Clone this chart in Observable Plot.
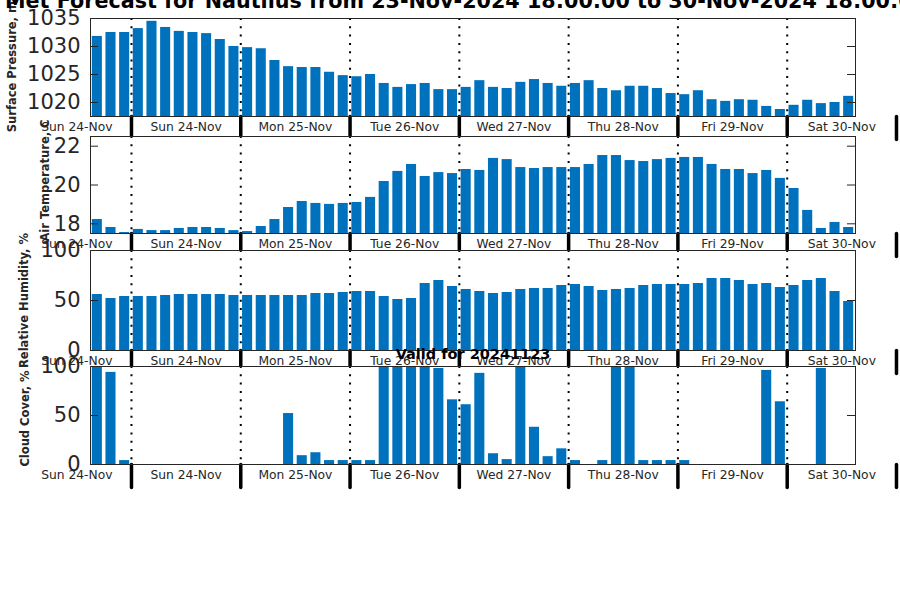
<!DOCTYPE html>
<html><head><meta charset="utf-8">
<script src="https://cdn.jsdelivr.net/npm/d3@7"></script>
<script src="https://cdn.jsdelivr.net/npm/@observablehq/plot@0.6"></script>
<style>
body{margin:0;background:#fff;}
#chart{position:relative;width:900px;height:600px;overflow:hidden;background:#fff;font-family:"DejaVu Sans",sans-serif;}
#chart svg{position:absolute;left:0;}
</style></head><body><div id="chart"></div>
<script>
// hours since 23-Nov-2024 00:00 for each 3-hourly bar
const hours = [16.5,19.5,22.5,25.5,28.5,31.5,34.5,37.5,40.5,43.5,46.5,49.5,52.5,55.5,58.5,61.5,64.5,67.5,70.5,73.5,76.5,79.5,82.5,85.5,88.5,91.5,94.5,97.5,100.5,103.5,106.5,109.5,112.5,115.5,118.5,121.5,124.5,127.5,130.5,133.5,136.5,139.5,142.5,145.5,148.5,151.5,154.5,157.5,160.5,163.5,166.5,169.5,172.5,175.5,178.5,181.5];
const xDomain = [15, 183];
const dayStarts = [24,48,72,96,120,144,168,192];
const dayNoons = [12,36,60,84,108,132,156,180];
const dayLabels = ["Sun 24-Nov","Sun 24-Nov","Mon 25-Nov","Tue 26-Nov","Wed 27-Nov","Thu 28-Nov","Fri 29-Nov","Sat 30-Nov"];

const pressure = [1031.8,1032.5,1032.5,1033.2,1034.5,1033.4,1032.7,1032.5,1032.3,1031.25,1030.0,1029.8,1029.6,1027.5,1026.4,1026.25,1026.25,1025.4,1024.8,1024.6,1025.0,1023.4,1022.7,1023.2,1023.4,1022.3,1022.3,1022.7,1023.9,1022.7,1022.5,1023.6,1024.1,1023.4,1022.9,1023.4,1023.9,1022.5,1022.1,1022.9,1022.9,1022.5,1021.6,1021.4,1022.1,1020.5,1020.2,1020.5,1020.4,1019.3,1018.75,1019.5,1020.4,1019.8,1020.0,1021.1];
const temperature = [18.22,17.81,17.55,17.71,17.65,17.65,17.76,17.81,17.81,17.76,17.65,17.6,17.86,18.22,18.84,19.15,19.05,19.0,19.05,19.1,19.36,20.18,20.7,21.06,20.44,20.64,20.59,20.8,20.75,21.37,21.31,20.9,20.85,20.9,20.9,20.9,21.06,21.52,21.52,21.26,21.21,21.31,21.37,21.42,21.42,21.06,20.8,20.8,20.59,20.75,20.34,19.82,18.69,17.76,18.07,17.81];
const humidity = [56,52,54,54,54,55,56,56,56,56,55,55,55,55,55,55,57,57,58,59,59,54,51,52,67,70,64,61,59,57,58,61,62,62,65,66,64,60,61,62,65,66,66,66,67,72,72,70,66,67,63,65,70,72,59,49];
const cloud = [100,94,4,0,0,0,0,0,0,0,0,0,0,0,52,9,12,4,4,4,4,100,100,100,100,98,66,61,93,11,5,100,38,8,16,4,0,4,100,100,4,4,4,4,0,0,0,0,0,96,64,0,0,98,0,0];

const titleText = "Met Forecast for Nautilus from 23-Nov-2024 18:00:00 to 30-Nov-2024 18:00:00";
const subTitle = "Valid for 20241123";

const panels = [
  {top:18,  h:98,  values:pressure,    domain:[1017.5,1035], ticks:[1020,1025,1030,1035], label:"Surface Pressure, mb", lx:12,   ldy:-5},
  {top:136, h:97,  values:temperature, domain:[17.5,22.5],   ticks:[18,20,22],            label:"Air Temperature, C",   lx:45,   ldy:-4.5},
  {top:250, h:100, values:humidity,    domain:[0,100],       ticks:[0,50,100],            label:"Relative Humidity, %", lx:24,   ldy:0},
  {top:366, h:98,  values:cloud,       domain:[0,100],       ticks:[0,50,100],            label:"Cloud Cover, %",       lx:24.5, ldy:3}
];

const lineShape = {draw(ctx, l) { ctx.moveTo(0, 0); ctx.lineTo(0, -l); }};
const dayTicks = dayNoons.map((t, i) => ({t, label: dayLabels[i]}));
const chart = document.getElementById("chart");
const ML = 90, MR = 45, FW = 900 - ML - MR;
const blue = "#0072BD", ink = "#262626";

panels.forEach((p, k) => {
  const data = hours.map((t, i) => ({t, v: p.values[i]}));
  const marks = [
    Plot.frame({fill: "white"}),
    Plot.rectY(data, {x1: d => d.t - 1.5, x2: d => d.t + 1.5, y: d => d.v, insetLeft: 1.8, insetRight: 1.8, fill: blue, clip: true}),
    Plot.ruleX(dayStarts.filter(d => d < xDomain[1]), {x: d => d, stroke: "black", strokeWidth: 2, strokeDasharray: "2,6.3"}),
    Plot.tickY(p.ticks, {y: d => d, stroke: ink, insetRight: FW - 8}),
    Plot.tickY(p.ticks, {y: d => d, stroke: ink, insetLeft: FW - 8}),
    Plot.axisY({ticks: p.ticks, tickSize: 0, tickPadding: 10, fontSize: 21, fill: ink, label: null, tickFormat: d => String(d)}),
    Plot.vector(dayStarts, {x: d => d, frameAnchor: "bottom", length: 23, rotate: 180, anchor: "start", stroke: "black", strokeWidth: 3.5, shape: lineShape}),
    Plot.text(dayTicks, {x: "t", text: "label", frameAnchor: "bottom", lineAnchor: "top", dy: 6, fontSize: 12.3, fill: ink}),
    Plot.frame({stroke: ink, strokeWidth: 1}),
    Plot.text([p.label], {text: d => d, frameAnchor: "left", textAnchor: "middle", dx: p.lx - ML, dy: p.ldy, rotate: -90, lineAnchor: "middle", fontSize: 11.5, fontWeight: "bold", fill: ink})
  ];
  if (k === 0) marks.push(Plot.text([titleText], {text: d => d, frameAnchor: "top", textAnchor: "middle", dx: -7, dy: -17, lineAnchor: "middle", fontSize: 20.7, fontWeight: "bold", fill: "black"}));
  if (k === 3) marks.push(Plot.text([subTitle], {text: d => d, frameAnchor: "top", textAnchor: "middle", dy: -12, lineAnchor: "middle", fontSize: 14.5, fontWeight: "bold", fill: "black"}));
  const svg = Plot.plot({
    width: 900, height: p.h,
    marginLeft: ML, marginRight: MR, marginTop: 0, marginBottom: 0,
    x: {domain: xDomain, axis: null},
    y: {domain: p.domain},
    style: {background: "transparent", overflow: "visible", fontFamily: "DejaVu Sans"},
    marks
  });
  svg.style.position = "absolute";
  svg.style.top = p.top + "px";
  svg.style.left = "0px";
  chart.appendChild(svg);
});
</script></body></html>
